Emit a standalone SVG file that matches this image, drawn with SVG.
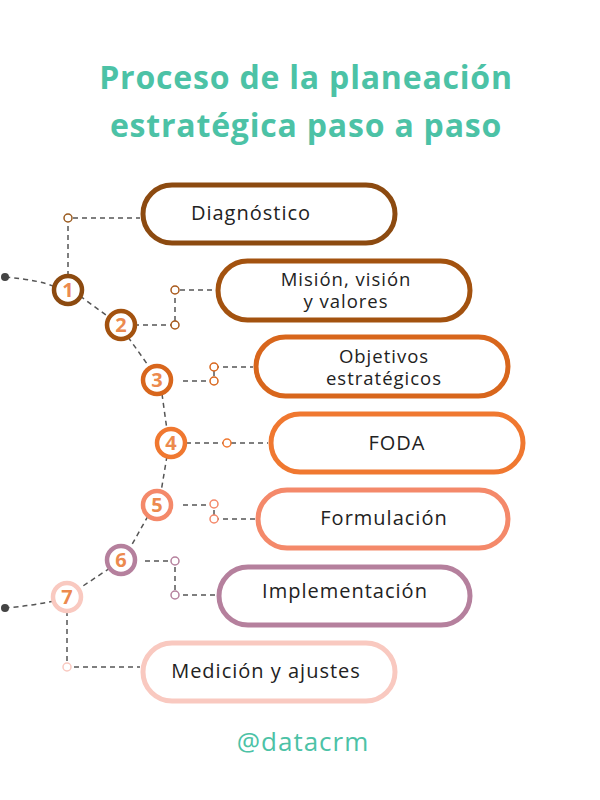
<svg xmlns="http://www.w3.org/2000/svg" width="600" height="800" viewBox="0 0 600 800">
<style>
.t{font-family:"Open Sans","Liberation Sans",sans-serif;font-weight:700;fill:#4cc2a6;font-size:32px;letter-spacing:0.8px;text-anchor:middle}
.p{fill:#fff;stroke-width:5}
.l{font-family:"Open Sans","Liberation Sans",sans-serif;font-size:20px;letter-spacing:1px;fill:#222;text-anchor:middle}
.l2{font-size:18.5px}
.n{fill:#fff;stroke-width:4.5}
.nt{font-family:"Open Sans","Liberation Sans",sans-serif;font-weight:700;font-size:20px;fill:#ec8a4e;text-anchor:middle}
.d{fill:none;stroke:#555;stroke-width:1.5;stroke-dasharray:5 4}
.s{fill:#fff;stroke-width:1.5}
</style>
<rect width="600" height="800" fill="#fff"/>
<text class="t" x="306" y="89">Proceso de la planeación</text>
<text class="t" x="306" y="137">estratégica paso a paso</text>
<g id="connectors">
<path class="d" d="M5,277 Q40,280 55,287 M80,296 L110,318 M128,337 L150,368 M162,394 L167,430 M167,456 L161,492 M148,516 L130,548 M110,568 L80,588 M54,601 Q30,606 5,608"/>
<path class="d" d="M68,276 V218 H140"/>
<path class="d" d="M134,325 H175 V290 H215"/>
<path class="d" d="M183,381 H214 V367 H253"/>
<path class="d" d="M186,443 H268"/>
<path class="d" d="M183,505 H214 V519 H255"/>
<path class="d" d="M145,561 H175 V595 H216"/>
<path class="d" d="M67,611 V667 H140"/>
<circle cx="5" cy="277" r="4" fill="#444"/>
<circle cx="5" cy="608" r="4" fill="#444"/>
<circle class="s" cx="68" cy="218" r="4" stroke="#9a5a1e"/>
<circle class="s" cx="175" cy="290" r="4" stroke="#a8581a"/>
<circle class="s" cx="175" cy="325" r="4" stroke="#a8581a"/>
<circle class="s" cx="214" cy="367" r="4" stroke="#d8661c"/>
<circle class="s" cx="214" cy="381" r="4" stroke="#d8661c"/>
<circle class="s" cx="227" cy="443" r="4" stroke="#f07830"/>
<circle class="s" cx="214" cy="504" r="4" stroke="#f4896a"/>
<circle class="s" cx="214" cy="519" r="4" stroke="#f4896a"/>
<circle class="s" cx="175" cy="561" r="4" stroke="#b5809d"/>
<circle class="s" cx="175" cy="595" r="4" stroke="#b5809d"/>
<circle class="s" cx="67" cy="667" r="4" stroke="#f9c9c0"/>
</g>
<g id="n1"><circle class="n" cx="68" cy="290" r="14" stroke="#8c4a10"/><text class="nt" x="68" y="297">1</text>
<rect class="p" x="143" y="185" width="252" height="58" rx="29" stroke="#8c4a10"/><text class="l" x="251" y="220">Diagnóstico</text></g>
<g id="n2"><circle class="n" cx="121" cy="325" r="14" stroke="#a3520f"/><text class="nt" x="121" y="332">2</text>
<rect class="p" x="218" y="261" width="252" height="59" rx="29.5" stroke="#a3520f"/><text class="l l2" x="346" y="286">Misión, visión</text><text class="l l2" x="346" y="308">y valores</text></g>
<g id="n3"><circle class="n" cx="157" cy="380" r="14" stroke="#d8661c"/><text class="nt" x="157" y="387">3</text>
<rect class="p" x="256" y="337" width="252" height="59" rx="29.5" stroke="#d8661c"/><text class="l l2" x="384" y="363">Objetivos</text><text class="l l2" x="384" y="385">estratégicos</text></g>
<g id="n4"><circle class="n" cx="171" cy="443" r="14" stroke="#f07830"/><text class="nt" x="171" y="450">4</text>
<rect class="p" x="271" y="414" width="252" height="58" rx="29" stroke="#f07830"/><text class="l" x="397" y="450">FODA</text></g>
<g id="n5"><circle class="n" cx="157" cy="505" r="14" stroke="#f4896a"/><text class="nt" x="157" y="512">5</text>
<rect class="p" x="258" y="490" width="250" height="58" rx="29" stroke="#f4896a"/><text class="l" x="384" y="525">Formulación</text></g>
<g id="n6"><circle class="n" cx="121" cy="560" r="14" stroke="#b5809d"/><text class="nt" x="121" y="567">6</text>
<rect class="p" x="219" y="567" width="251" height="58" rx="29" stroke="#b5809d"/><text class="l" x="345" y="598">Implementación</text></g>
<g id="n7"><circle class="n" cx="67" cy="597" r="14" stroke="#f9c9c0"/><text class="nt" x="67" y="604">7</text>
<rect class="p" x="143" y="643" width="252" height="58" rx="29" stroke="#f9c9c0"/><text class="l" x="266" y="678">Medición y ajustes</text></g>
<text x="303" y="751" style="font-family:'Open Sans','Liberation Sans',sans-serif;font-size:26px;letter-spacing:1px;fill:#4cc2a6;text-anchor:middle">@datacrm</text>
</svg>
